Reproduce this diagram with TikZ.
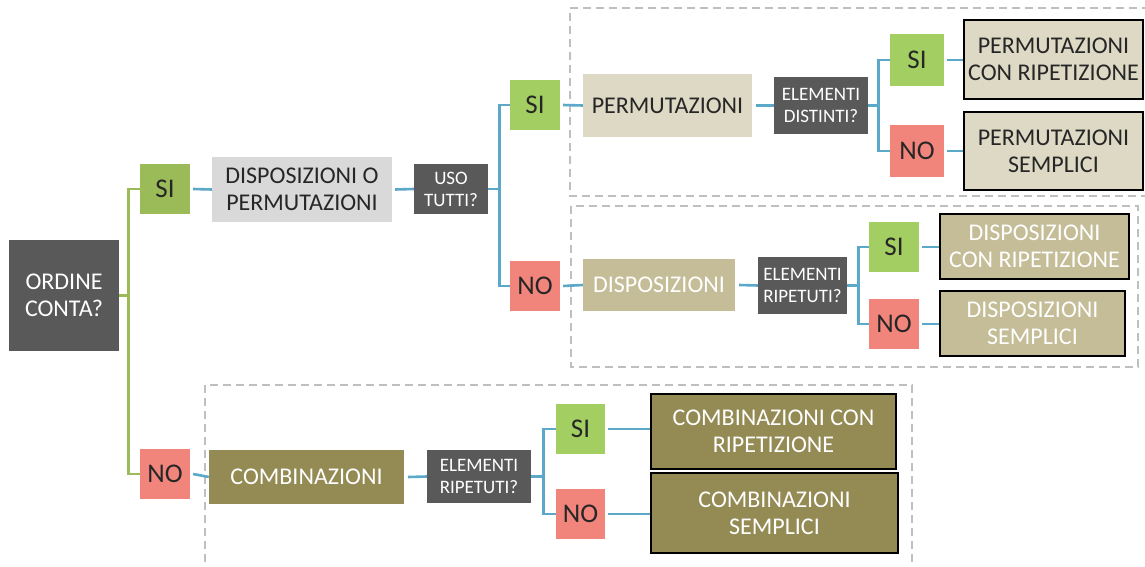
\documentclass[tikz,border=0pt]{standalone}
\usepackage{fontspec}
\setmainfont{Carlito}
\definecolor{dgray}{HTML}{595959}
\definecolor{gA}{HTML}{9BBB59}
\definecolor{gB}{HTML}{A2CE62}
\definecolor{salmon}{HTML}{F1857C}
\definecolor{lgray}{HTML}{D9D9D9}
\definecolor{beige}{HTML}{DDD9C4}
\definecolor{tan}{HTML}{C4BD97}
\definecolor{olive}{HTML}{948A54}
\definecolor{lblue}{HTML}{5BA8C8}
\definecolor{dash}{HTML}{BFBFBF}
\definecolor{ink}{HTML}{262626}
\tikzset{
  bx/.style={rectangle, inner sep=0pt, align=center, draw=none},
  big/.style={font=\fontsize{24}{27}\selectfont},
  yn/.style={bx, font=\fontsize{27}{29}\selectfont, text=ink},
  small/.style={bx, fill=dgray, text=white, font=\fontsize{19}{22}\selectfont},
  final/.style={bx, big, draw=black, line width=2.6pt},
  conn/.style={draw=lblue, line width=2.6pt},
  gconn/.style={draw=gA, line width=2.6pt},
  dbox/.style={draw=dash, line width=2pt, dash pattern=on 8pt off 5pt},
}
\begin{document}
\begin{tikzpicture}[x=1pt,y=-1pt]
\useasboundingbox (0,0) rectangle (1145,567);
\fill[white] (0,0) rectangle (1145,567);
% dashed groups
\draw[dbox] (1150,8) -- (570,8) -- (570,196) -- (1150,196);
\draw[dbox] (571,206) rectangle (1138,367);
\draw[dbox] (205,575) -- (205,385) -- (912,385) -- (912,575);
% root
\node[bx, fill=dgray, text=white, big, minimum width=110, minimum height=111] (ord) at (64,295.5) {ORDINE\\CONTA?};
\node[yn, fill=gA, minimum width=50, minimum height=50] (si1) at (165,189) {SI};
\node[yn, fill=salmon, minimum width=50, minimum height=50] (no1) at (165,474) {NO};
% upper branch
\node[bx, fill=lgray, text=ink, big, minimum width=180, minimum height=65] (dop) at (302,189.5) {DISPOSIZIONI O\\PERMUTAZIONI};
\node[small, minimum width=74, minimum height=50] (uso) at (451,189) {USO\\TUTTI?};
\node[yn, fill=gB, minimum width=50, minimum height=50] (si2) at (535,105) {SI};
\node[yn, fill=salmon, minimum width=50, minimum height=50] (no2) at (535,286) {NO};
% permutazioni
\node[bx, fill=beige, text=ink, big, minimum width=169, minimum height=63] (perm) at (667.5,105.5) {PERMUTAZIONI};
\node[small, minimum width=94, minimum height=57] (ed) at (821,105.5) {ELEMENTI\\DISTINTI?};
\node[yn, fill=gB, minimum width=54, minimum height=52] (si3) at (917,60) {SI};
\node[yn, fill=salmon, minimum width=54, minimum height=52] (no3) at (917,151) {NO};
\node[final, fill=beige, text=ink, minimum width=179, minimum height=79] (pcr) at (1053.5,59.5) {PERMUTAZIONI\\CON RIPETIZIONE};
\node[final, fill=beige, text=ink, minimum width=179, minimum height=78] (ps) at (1053.5,151) {PERMUTAZIONI\\SEMPLICI};
% disposizioni
\node[bx, fill=tan, text=white, big, minimum width=152, minimum height=52] (disp) at (659,285) {DISPOSIZIONI};
\node[small, minimum width=89, minimum height=57] (er1) at (802.5,285.5) {ELEMENTI\\RIPETUTI?};
\node[yn, fill=gB, minimum width=50, minimum height=50] (si4) at (894,247) {SI};
\node[yn, fill=salmon, minimum width=50, minimum height=50] (no4) at (894,324) {NO};
\node[final, fill=tan, text=white, minimum width=189, minimum height=65] (dcr) at (1034.5,246.5) {DISPOSIZIONI\\CON RIPETIZIONE};
\node[final, fill=tan, text=white, minimum width=185, minimum height=65] (ds) at (1032.5,323.5) {DISPOSIZIONI\\SEMPLICI};
% combinazioni
\node[bx, fill=olive, text=white, big, minimum width=195, minimum height=54] (comb) at (306.5,477) {COMBINAZIONI};
\node[small, minimum width=104, minimum height=53] (er2) at (479,476.5) {ELEMENTI\\RIPETUTI?};
\node[yn, fill=gB, minimum width=49, minimum height=50] (si5) at (580.5,429) {SI};
\node[yn, fill=salmon, minimum width=49, minimum height=50] (no5) at (580.5,514) {NO};
\node[final, fill=olive, text=white, minimum width=245, minimum height=75] (ccr) at (773.5,431.5) {COMBINAZIONI CON\\RIPETIZIONE};
\node[final, fill=olive, text=white, minimum width=247, minimum height=80] (cs) at (774.5,513) {COMBINAZIONI\\SEMPLICI};
% connectors
\draw[gconn] (ord.east) -- ++(9,0) |- (si1.west);
\draw[gconn] (ord.east) -- ++(9,0) |- (no1.west);
\draw[conn] (si1.east) ++(3,0) -- (dop.west);
\draw[conn] (dop.east) ++(3,0) -- (uso.west);
\draw[conn] (uso.east) -- ++(11,0) |- (si2.west);
\draw[conn] (uso.east) -- ++(11,0) |- (no2.west);
\draw[conn] (si2.east) ++(3,0) -- (perm.west);
\draw[conn] (no2.east) ++(3,0) -- (disp.west);
\draw[conn] (no1.east) ++(3,0) -- (comb.west);
\draw[conn] (perm.east) ++(4,0) -- (ed.west);
\draw[conn] (ed.east) -- ++(10,0) |- (si3.west);
\draw[conn] (ed.east) -- ++(10,0) |- (no3.west);
\draw[conn] (si3.east) ++(3,0) -- (pcr.west |- si3.east);
\draw[conn] (no3.east) ++(3,0) -- (ps.west |- no3.east);
\draw[conn] (disp.east) ++(4,0) -- (er1.west);
\draw[conn] (er1.east) -- ++(11,0) |- (si4.west);
\draw[conn] (er1.east) -- ++(11,0) |- (no4.west);
\draw[conn] (si4.east) ++(3,0) -- (dcr.west |- si4.east);
\draw[conn] (no4.east) ++(3,0) -- (ds.west |- no4.east);
\draw[conn] (comb.east) ++(4,0) -- (er2.west);
\draw[conn] (er2.east) -- ++(12,0) |- (si5.west);
\draw[conn] (er2.east) -- ++(12,0) |- (no5.west);
\draw[conn] (si5.east) ++(3,0) -- (ccr.west |- si5.east);
\draw[conn] (no5.east) ++(3,0) -- (cs.west |- no5.east);
\end{tikzpicture}
\end{document}
